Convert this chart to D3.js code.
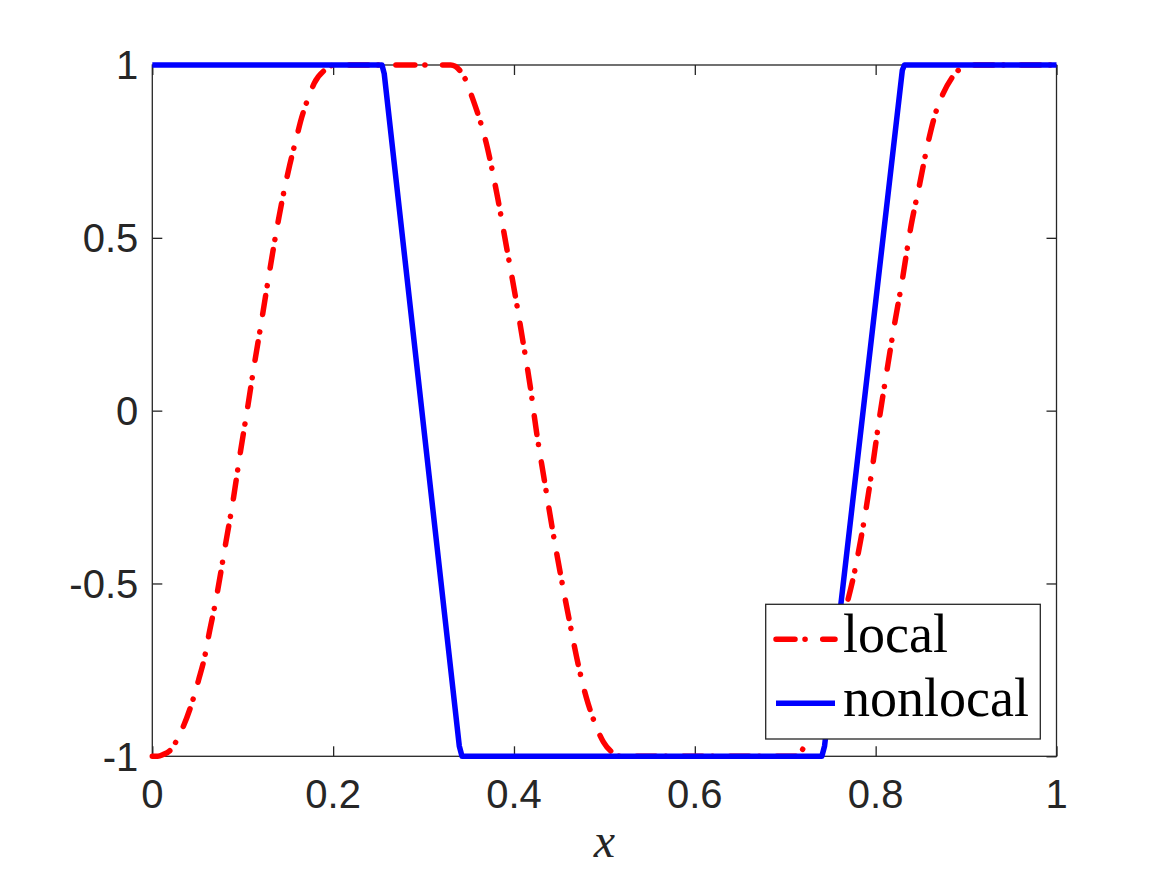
<!DOCTYPE html>
<html>
<head>
<meta charset="utf-8">
<script src="https://cdn.jsdelivr.net/npm/d3@7"></script>
<style>
  html, body { margin: 0; padding: 0; background: #fff; }
  svg { display: block; }
</style>
</head>
<body>
<div id="chart"></div>
<script>
// values
var xTicks = [0, 0.2, 0.4, 0.6, 0.8, 1];
var yTicks = [-1, -0.5, 0, 0.5, 1];
var xTickLabels = ["0", "0.2", "0.4", "0.6", "0.8", "1"];
var yTickLabels = ["-1", "-0.5", "0", "0.5", "1"];
var seriesNames = ["local", "nonlocal"];

var localX = [0, 0.006, 0.012, 0.02, 0.0306, 0.0457, 0.051, 0.0583, 0.062, 0.07, 0.0815, 0.0896, 0.097, 0.105,
  0.1128, 0.121, 0.127, 0.133, 0.14, 0.148, 0.152, 0.16, 0.164, 0.1745, 0.179, 0.191, 0.198, 0.205,
  0.33, 0.344, 0.354, 0.371, 0.382, 0.392, 0.402, 0.41, 0.418, 0.425, 0.433, 0.443, 0.453, 0.461,
  0.472, 0.48, 0.488, 0.499, 0.51, 0.518,
  0.712, 0.716, 0.722, 0.731, 0.742, 0.752, 0.762, 0.777, 0.7895, 0.797, 0.804, 0.812, 0.82, 0.8285,
  0.8393, 0.848, 0.858, 0.8677, 0.874, 0.886, 0.897, 0.905, 1];
var localY = [-1, -1, -0.995, -0.982, -0.935, -0.83, -0.781, -0.7075, -0.656, -0.553, -0.379, -0.256, -0.127, 0.002,
  0.133, 0.262, 0.36, 0.455, 0.559, 0.664, 0.711, 0.795, 0.837, 0.918, 0.947, 0.986, 0.998, 1,
  1, 0.97, 0.905, 0.756, 0.615, 0.47, 0.324, 0.199, 0.07, -0.063, -0.192, -0.35, -0.495, -0.604,
  -0.746, -0.83, -0.894, -0.959, -0.991, -1,
  -1, -0.99, -0.97, -0.932, -0.845, -0.745, -0.625, -0.462, -0.282, -0.153, -0.024, 0.108, 0.237, 0.363,
  0.537, 0.647, 0.776, 0.873, 0.914, 0.969, 0.995, 1, 1];

var nonlocalX = [0, 0.254, 0.2565, 0.3395, 0.3425, 0.7405, 0.7435, 0.8295, 0.8318, 1];
var nonlocalY = [1, 1, 0.975, -0.97, -1, -1, -0.97, 0.985, 1, 1];

var width = 1167, height = 875;
var margin = { top: 65, right: 110.5, bottom: 118.7, left: 152.3 };
var axisColor = "#262626";

var svg = d3.select("#chart").append("svg")
  .attr("width", width)
  .attr("height", height);

var x = d3.scaleLinear().domain([0, 1]).range([margin.left, width - margin.right]);
var y = d3.scaleLinear().domain([-1, 1]).range([height - margin.bottom, margin.top]);

// axes box, ticks pointing inwards on all four sides
var tickLen = 10;
var gAxes = svg.append("g");
gAxes.append("rect")
  .attr("x", x(0)).attr("y", y(1))
  .attr("width", x(1) - x(0)).attr("height", y(-1) - y(1))
  .attr("fill", "none").attr("stroke", axisColor).attr("stroke-width", 1.3);

var bottomAxis = d3.axisBottom(x).tickValues(xTicks).tickSize(-tickLen).tickFormat("");
var topAxis = d3.axisTop(x).tickValues(xTicks).tickSize(-tickLen).tickFormat("");
var leftAxis = d3.axisLeft(y).tickValues(yTicks).tickSize(-tickLen).tickFormat("");
var rightAxis = d3.axisRight(y).tickValues(yTicks).tickSize(-tickLen).tickFormat("");

gAxes.append("g").attr("transform", "translate(0," + y(-1) + ")").call(bottomAxis);
gAxes.append("g").attr("transform", "translate(0," + y(1) + ")").call(topAxis);
gAxes.append("g").attr("transform", "translate(" + x(0) + ",0)").call(leftAxis);
gAxes.append("g").attr("transform", "translate(" + x(1) + ",0)").call(rightAxis);
gAxes.selectAll(".domain").remove();
gAxes.selectAll(".tick line").attr("stroke", axisColor).attr("stroke-width", 1.3);

// tick labels
svg.append("g").selectAll("text")
  .data(xTicks)
  .join("text")
  .attr("x", d => x(d))
  .attr("y", y(-1) + 52)
  .attr("text-anchor", "middle")
  .attr("font-family", "'Liberation Sans', Arial, sans-serif")
  .attr("font-size", 40)
  .attr("fill", axisColor)
  .text((d, i) => xTickLabels[i]);

svg.append("g").selectAll("text")
  .data(yTicks)
  .join("text")
  .attr("x", x(0) - 14)
  .attr("y", d => y(d))
  .attr("dy", "0.36em")
  .attr("text-anchor", "end")
  .attr("font-family", "'Liberation Sans', Arial, sans-serif")
  .attr("font-size", 40)
  .attr("fill", axisColor)
  .text((d, i) => yTickLabels[i]);

// x label (latex italic x)
svg.append("text")
  .attr("x", (x(0) + x(1)) / 2)
  .attr("y", 857)
  .attr("text-anchor", "middle")
  .attr("font-family", "'Liberation Serif', 'DejaVu Serif', serif")
  .attr("font-style", "italic")
  .attr("font-size", 48)
  .attr("fill", axisColor)
  .text("x");

// the two curves
var smoothLine = d3.line().x(d => x(d[0])).y(d => y(d[1])).curve(d3.curveMonotoneX);
var line = d3.line().x(d => x(d[0])).y(d => y(d[1]));
var localData = localX.map((v, i) => [v, localY[i]]);
var nonlocalData = nonlocalX.map((v, i) => [v, nonlocalY[i]]);
var dashDot = "19,10,0.1,17.6";

svg.append("path")
  .datum(localData)
  .attr("d", smoothLine)
  .attr("fill", "none")
  .attr("stroke", "#ff0000")
  .attr("stroke-width", 5.5)
  .attr("stroke-linecap", "round")
  .attr("stroke-linejoin", "round")
  .attr("stroke-dasharray", dashDot);

svg.append("path")
  .datum(nonlocalData)
  .attr("d", line)
  .attr("fill", "none")
  .attr("stroke", "#0000ff")
  .attr("stroke-width", 5.5)
  .attr("stroke-linejoin", "round");

// legend
var legend = svg.append("g");
legend.append("rect")
  .attr("x", 765.7).attr("y", 604.3)
  .attr("width", 274.6).attr("height", 134.7)
  .attr("fill", "#fff")
  .attr("stroke", axisColor)
  .attr("stroke-width", 1.3);

var legendRows = [
  { name: seriesNames[0], color: "#ff0000", dash: dashDot, w: 5.5, cy: 639.3 },
  { name: seriesNames[1], color: "#0000ff", dash: null, w: 5.5, cy: 703.3 }
];
legendRows.forEach(function(r) {
  legend.append("line")
    .attr("x1", 776).attr("x2", 835)
    .attr("y1", r.cy).attr("y2", r.cy)
    .attr("stroke", r.color)
    .attr("stroke-width", r.w)
    .attr("stroke-linecap", r.dash ? "round" : "butt")
    .attr("stroke-dasharray", r.dash);
  legend.append("text")
    .attr("x", 843)
    .attr("y", r.cy + 12.5)
    .attr("font-family", "'Liberation Serif', 'DejaVu Serif', serif")
    .attr("font-size", 54)
    .attr("fill", "#000")
    .text(r.name);
});
</script>
</body>
</html>
